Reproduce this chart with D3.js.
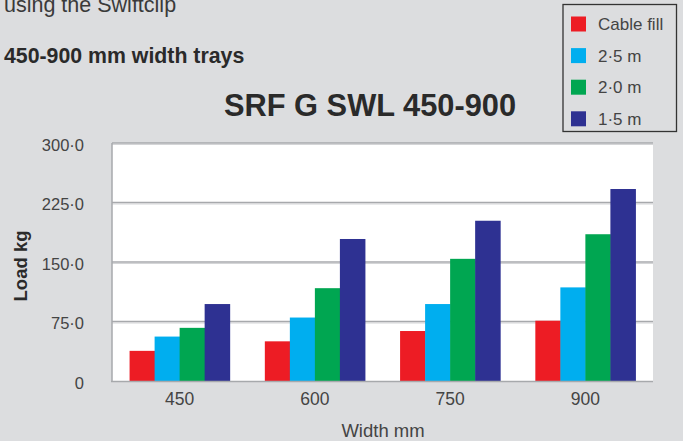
<!DOCTYPE html>
<html><head><meta charset="utf-8">
<script src="https://cdn.jsdelivr.net/npm/d3@7"></script>
<style>
html,body{margin:0;padding:0;background:#dcdddf;}
svg{display:block;font-family:"Liberation Sans",Arial,Helvetica,sans-serif;}
</style></head>
<body><svg id="c" width="683" height="441"></svg>
<script>
const categories = ["450","600","750","900"];
const seriesNames = ["Cable fill","2·5 m","2·0 m","1·5 m"];
const cableFill = [38, 50, 63, 76];
const span25 = [56, 80, 97, 118];
const span20 = [67, 117, 154, 185];
const span15 = [97, 179, 202, 242];
const seriesValues = [cableFill, span25, span20, span15];
const colors = ["#ed1c24","#00aeef","#00a651","#2e3192"];
const yTicks = [0, 75, 150, 225, 300];
const yTickLabels = ["0","75·0","150·0","225·0","300·0"];

const svg = d3.select("#c");
const m = {left:112, right:653, top:143, bottom:381};

const x = d3.scaleBand().domain(categories).range([m.left, m.right]).paddingInner(0.26).paddingOuter(0.13);
const xs = d3.scaleBand().domain(d3.range(seriesNames.length)).range([0, x.bandwidth()]);
const y = d3.scaleLinear().domain([0,300]).range([m.bottom, m.top]);

// header texts
svg.append("text").attr("x",4).attr("y",12).attr("font-size",21.5).attr("fill","#3a3a3a").text("using the Swiftclip");
svg.append("text").attr("x",4).attr("y",63).attr("font-size",21.3).attr("font-weight","bold").attr("fill","#2a2a2a").text("450-900 mm width trays");

// title
svg.append("text").attr("x",370).attr("y",116).attr("text-anchor","middle").attr("font-size",30.8).attr("font-weight","bold").attr("fill","#2a2a2a").text("SRF G SWL 450-900");

// plot area
svg.append("rect").attr("x",m.left).attr("y",m.top).attr("width",m.right-m.left).attr("height",m.bottom-m.top).attr("fill","#ffffff");

// gridlines
const grid = svg.append("g");
yTicks.forEach(t=>{
  if(t===0) return;
  grid.append("line").attr("x1",m.left).attr("x2",m.right).attr("y1",y(t)+1.5).attr("y2",y(t)+1.5).attr("stroke","#d4d5d7").attr("stroke-width",1);
  grid.append("line").attr("x1",m.left).attr("x2",m.right).attr("y1",y(t)).attr("y2",y(t)).attr("stroke","#a7a9ac").attr("stroke-width",1.6);
});

// bars
const g = svg.append("g");
categories.forEach((c,i)=>{
  seriesValues.forEach((vals,s)=>{
    g.append("rect").attr("x",x(c)+xs(s)).attr("width",xs.bandwidth()+0.5)
      .attr("y",y(vals[i])).attr("height",y(0)-y(vals[i])).attr("fill",colors[s]);
  });
});

// left border & bottom axis
svg.append("line").attr("x1",m.left).attr("x2",m.left).attr("y1",m.top).attr("y2",m.bottom).attr("stroke","#a7a9ac").attr("stroke-width",1.5);
svg.append("line").attr("x1",m.left-1).attr("x2",m.right).attr("y1",m.bottom+0.5).attr("y2",m.bottom+0.5).attr("stroke","#a7a9ac").attr("stroke-width",1.5);

// y axis labels
const yAxis = d3.axisLeft(y).tickValues(yTicks).tickFormat((d,i)=>yTickLabels[i]).tickSize(0).tickPadding(28);
const ya = svg.append("g").attr("transform",`translate(${m.left},0)`).call(yAxis);
ya.select(".domain").remove();
ya.selectAll("text").attr("font-size",16.5).attr("fill","#444").attr("font-family","Liberation Sans, Arial, sans-serif").attr("dy","0.45em");

// x axis labels
const xAxis = d3.axisBottom(x).tickSize(0).tickPadding(12);
const xa = svg.append("g").attr("transform",`translate(0,${m.bottom})`).call(xAxis);
xa.select(".domain").remove();
xa.selectAll("text").attr("font-size",17.5).attr("fill","#444").attr("font-family","Liberation Sans, Arial, sans-serif");

// axis titles
svg.append("text").attr("x",383).attr("y",437).attr("text-anchor","middle").attr("font-size",18.5).attr("fill","#444").text("Width mm");
svg.append("text").attr("transform","translate(27,266) rotate(-90)").attr("text-anchor","middle").attr("font-size",18.5).attr("font-weight","bold").attr("fill","#2a2a2a").text("Load kg");

// legend
const lg = svg.append("g");
lg.append("rect").attr("x",563).attr("y",4.5).attr("width",113.5).attr("height",127).attr("fill","none").attr("stroke","#333").attr("stroke-width",1.3);
seriesNames.forEach((n,i)=>{
  const cy = 24 + i*31.6;
  lg.append("rect").attr("x",571).attr("y",cy-7.5).attr("width",15).attr("height",15).attr("fill",colors[i]);
  lg.append("text").attr("x",598).attr("y",cy+6).attr("font-size",17).attr("fill","#444").text(n);
});
</script>
</body></html>
